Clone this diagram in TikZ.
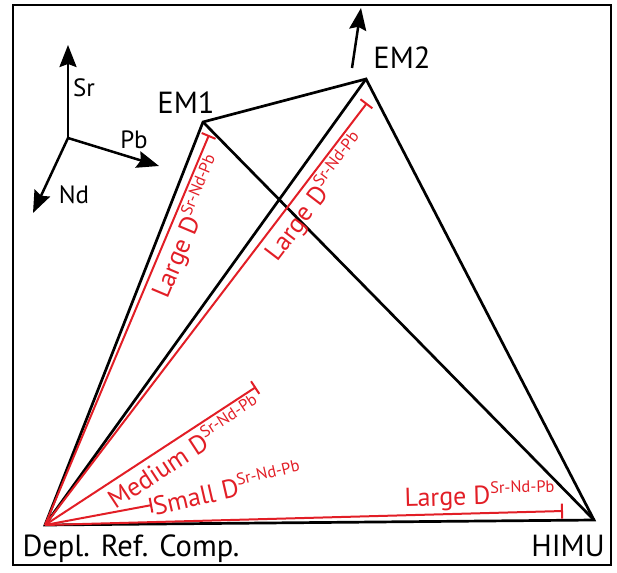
\documentclass[tikz,border=0pt]{standalone}
\usepackage{fontspec}
\setmainfont{PT Sans}
\usetikzlibrary{arrows.meta}
\definecolor{dred}{RGB}{226,30,38}
\newcommand{\dsup}{D\raisebox{0.42em}{\fontsize{16.5}{16.5}\selectfont Sr-Nd-Pb}}
\tikzset{
  edge/.style={line width=2.7pt,line join=miter},
  axis/.style={line width=2.5pt,-{Stealth[length=22pt,width=17pt,inset=3pt]}},
  dline/.style={dred,line width=2pt,-{Bar[width=15pt,line width=2pt]}},
  dlabel/.style={dred,font=\fontsize{26}{26}\selectfont,inner sep=2pt},
  big/.style={font=\fontsize{30.5}{30.5}\selectfont,inner sep=0pt},
  small/.style={font=\fontsize{25}{25}\selectfont,inner sep=0pt}
}
\begin{document}
\begin{tikzpicture}[x=1pt,y=-1pt]
\useasboundingbox (0,0) rectangle (617,572);
\draw[line width=2.6pt] (13,5) rectangle (611,565);

% end members
\coordinate (drc) at (45,525);
\coordinate (himu) at (594,520);
\coordinate (em1) at (203,122);
\coordinate (em2) at (366,79);

\node[big,anchor=base] (drclabel) at (131,556) {Depl. Ref. Comp.};
\node[big,anchor=base] (himulabel) at (568,556) {HIMU};
\node[big,anchor=base] (em1label) at (186,114) {EM1};
\node[big,anchor=base] (em2label) at (402,69) {EM2};

\draw[edge] (drc) -- (em1) -- (em2) -- (himu) -- cycle;
\draw[edge] (drc) -- (em2);
\draw[edge] (em1) -- (himu);

% off-scale arrow
\coordinate (em2a) at (352,68);
\coordinate (em2b) at (361,8);
\draw[axis] (em2a) -- (em2b);

% isotope axes
\coordinate (o) at (68,138);
\coordinate (sr) at (68,45);
\coordinate (pb) at (159,166);
\coordinate (nd) at (33,213);
\draw[axis] (o) -- (sr);
\draw[axis] (o) -- (pb);
\draw[axis] (o) -- (nd);
\node[small,anchor=base] (srlabel) at (84,97) {Sr};
\node[small,anchor=base] (pblabel) at (134,148) {Pb};
\node[small,anchor=base] (ndlabel) at (74,203) {Nd};

% diffusivity ranges
\coordinate (r1) at (209,135);
\coordinate (r2) at (367,103);
\coordinate (r3) at (256,387);
\coordinate (r4) at (152,505);
\coordinate (r5) at (563,511);
\draw[dline] (drc) -- (r1) node[dlabel,pos=0.78,sloped,below] (l1) {Large \dsup};
\draw[dline] (drc) -- (r2) node[dlabel,pos=0.80,sloped,below] (l2) {Large \dsup};
\draw[dline] (drc) -- (r3) node[dlabel,pos=0.62,sloped,below] (l3) {Medium \dsup};
\draw[dline] (drc) -- (r4);
\node[dlabel,anchor=west,rotate=13,inner sep=1pt] (l4) at (r4) {Small \dsup};
\draw[dline] (drc) -- (r5) node[dlabel,pos=0.84,sloped,above] (l5) {Large \dsup};
\end{tikzpicture}
\end{document}
